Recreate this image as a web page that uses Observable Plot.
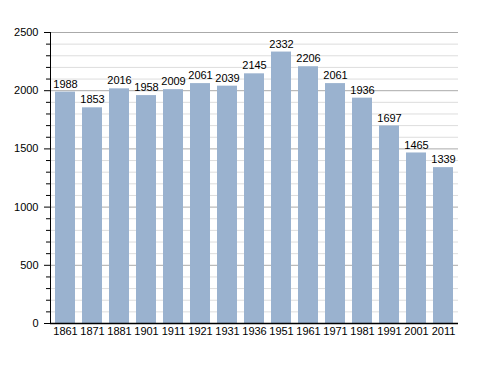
<!DOCTYPE html>
<html><head><meta charset="utf-8">
<script src="https://cdn.jsdelivr.net/npm/d3@7"></script>
<script src="https://cdn.jsdelivr.net/npm/@observablehq/plot@0.6"></script>
<style>body{margin:0;background:#fff}</style>
</head><body>
<div id="chart"></div>
<script>
const years = ["1861","1871","1881","1901","1911","1921","1931","1936","1951","1961","1971","1981","1991","2001","2011"];
const population = [1988,1853,2016,1958,2009,2061,2039,2145,2332,2206,2061,1936,1697,1465,1339];
const majorTicks = [0,500,1000,1500,2000,2500];
const minorTicks = d3.range(0, 2501, 100).filter(v => v % 500 !== 0);

const data = years.map((y,i)=>({year:y, value:population[i]}));

const chart = Plot.plot({
  width: 488, height: 373,
  marginLeft: 50, marginRight: 30, marginTop: 32, marginBottom: 50,
  style: {fontFamily: "Liberation Sans, Arial, sans-serif", fontSize: "11px", color: "#000", background: "#fff"},
  x: {domain: years, paddingInner: 0.25, paddingOuter: 0.04, label: null},
  y: {domain: [0,2500], label: null},
  marks: [
    Plot.gridY(minorTicks, {stroke: "#ddd", strokeOpacity: 1}),
    Plot.gridY(majorTicks, {stroke: "#aaa", strokeOpacity: 1}),
    Plot.axisY(minorTicks, {tickSize: 4, tickFormat: () => "", stroke: "#000", label: null}),
    Plot.axisY(majorTicks, {tickSize: 6, tickPadding: 6, tickFormat: d => String(d), label: null}),
    Plot.axisX({tickSize: 0, tickPadding: 4, label: null}),
    Plot.barY(data, {x: "year", y: "value", fill: "#9ab2cf"}),
    Plot.text(data, {x: "year", y: "value", text: d=>String(d.value), dy: -8, fontSize: 11, fill: "#000"}),
    Plot.ruleY([0], {stroke: "#000", strokeWidth: 1.5}),
    Plot.frame({anchor: "left", stroke: "#000"})
  ]
});
document.getElementById("chart").appendChild(chart);
</script>
</body></html>
